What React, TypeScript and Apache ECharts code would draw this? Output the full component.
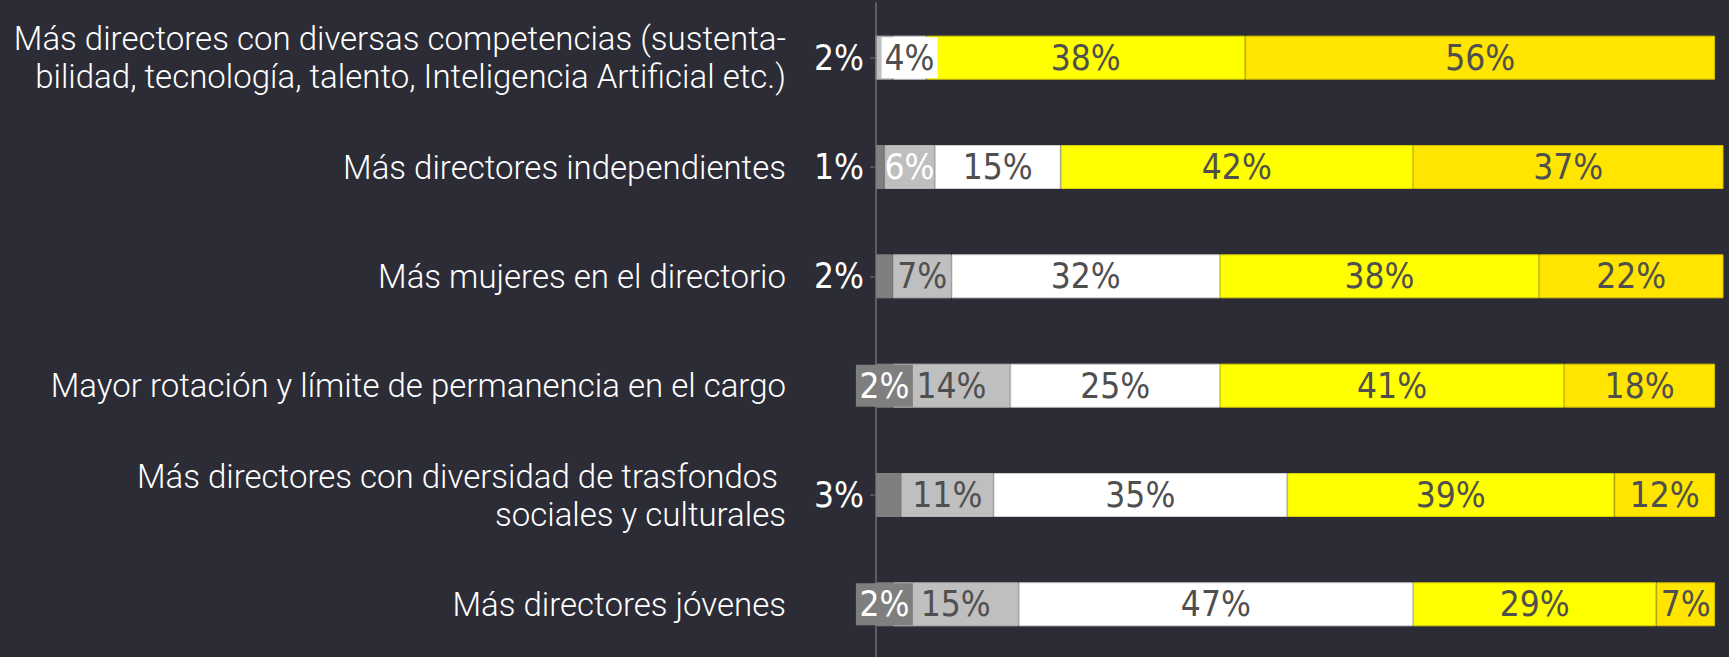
import React, { useEffect, useRef } from "react";
import * as echarts from "echarts";

const categories = [
  "Más directores con diversas competencias (sustenta-\nbilidad, tecnología, talento, Inteligencia Artificial etc.)",
  "Más directores independientes",
  "Más mujeres en el directorio",
  "Mayor rotación y límite de permanencia en el cargo",
  "Más directores con diversidad de trasfondos \nsociales y culturales",
  "Más directores jóvenes",
];

const muchoMenos = [0, 1, 2, 2, 3, 2];
const algoMenos = [2, 6, 7, 14, 11, 15];
const igual = [4, 15, 32, 25, 35, 47];
const algoMas = [38, 42, 38, 41, 39, 29];
const muchoMas = [56, 37, 22, 18, 12, 7];

const LABEL_FONT = "'DejaVu Sans Condensed', 'DejaVu Sans', sans-serif";
const CAT_FONT = "Roboto, sans-serif";
const DARK_TEXT = "#4f4f4f";
const PCT_SIZE = 35;

const baseLabel = {
  show: true,
  position: "inside",
  formatter: "{c}%",
  fontFamily: LABEL_FONT,
  fontSize: PCT_SIZE,
  color: DARK_TEXT,
};

// label style mode per series per row: o = outside left, b = boxed, w = inside white text, d = inside dark text, n = none
const modes: Record<string, string[]> = {
  muchoMenos: ["n", "o", "o", "b", "o", "b"],
  algoMenos: ["o", "w", "d", "d", "d", "d"],
  igual: ["wb", "d", "d", "d", "d", "d"],
  algoMas: ["d", "d", "d", "d", "d", "d"],
  muchoMas: ["d", "d", "d", "d", "d", "d"],
};

function labelFor(mode: string): any {
  switch (mode) {
    case "n":
      return { show: false };
    case "o":
      return { ...baseLabel, position: "left", distance: 12, color: "#ffffff" };
    case "b":
      return {
        ...baseLabel,
        color: "#ffffff",
        backgroundColor: "#7f7f7f",
        width: 57,
        height: 42,
        lineHeight: 42,
        align: "center",
        verticalAlign: "middle",
      };
    case "wb":
      return {
        ...baseLabel,
        backgroundColor: "#ffffff",
        width: 56,
        height: 41,
        lineHeight: 41,
        align: "center",
        verticalAlign: "middle",
      };
    case "w":
      return { ...baseLabel, color: "#ffffff" };
    default:
      return { ...baseLabel };
  }
}

function build(name: string, values: number[], color: string, border: string, z: number) {
  return {
    name,
    type: "bar",
    stack: "total",
    barWidth: 44,
    z,
    itemStyle: { color, borderColor: border, borderWidth: 1 },
    data: values.map((v, i) => ({ value: v, label: labelFor(modes[name][i]) })),
  };
}

export default function App() {
  const ref = useRef<HTMLDivElement>(null);
  useEffect(() => {
    if (!ref.current) return;
    const chart = echarts.init(ref.current, null, { renderer: "svg" });
    chart.setOption({
      animation: false,
      backgroundColor: "#2c2c36",
      grid: { left: 876, right: 5.5, top: 3, height: 656, outerBoundsMode: "none", containLabel: false },
      xAxis: {
        type: "value",
        min: 0,
        max: 101,
        show: false,
      },
      yAxis: {
        type: "category",
        inverse: true,
        data: categories,
        axisLine: { show: true, lineStyle: { color: "#5c5c64", width: 2 } },
        axisTick: { show: true, alignWithLabel: true, length: 6, lineStyle: { color: "#5c5c64", width: 1.5 } },
        axisLabel: {
          color: "#ffffff",
          fontFamily: CAT_FONT,
          fontWeight: 300,
          fontSize: 33,
          lineHeight: 38,
          align: "right",
          margin: 90,
        },
      },
      series: [
        build("muchoMenos", muchoMenos, "#7f7f7f", "#7f7f7f", 5),
        build("algoMenos", algoMenos, "#bfbfbf", "#b4b4b4", 4),
        build("igual", igual, "#ffffff", "#d0d0d0", 6),
        build("algoMas", algoMas, "#ffff00", "#d8d000", 3),
        build("muchoMas", muchoMas, "#ffe500", "#d8c000", 2),
      ],
    });
    return () => chart.dispose();
  }, []);
  return (
    <div
      ref={ref}
      style={{ position: "fixed", left: 0, top: 0, width: 1729, height: 657 }}
    />
  );
}
